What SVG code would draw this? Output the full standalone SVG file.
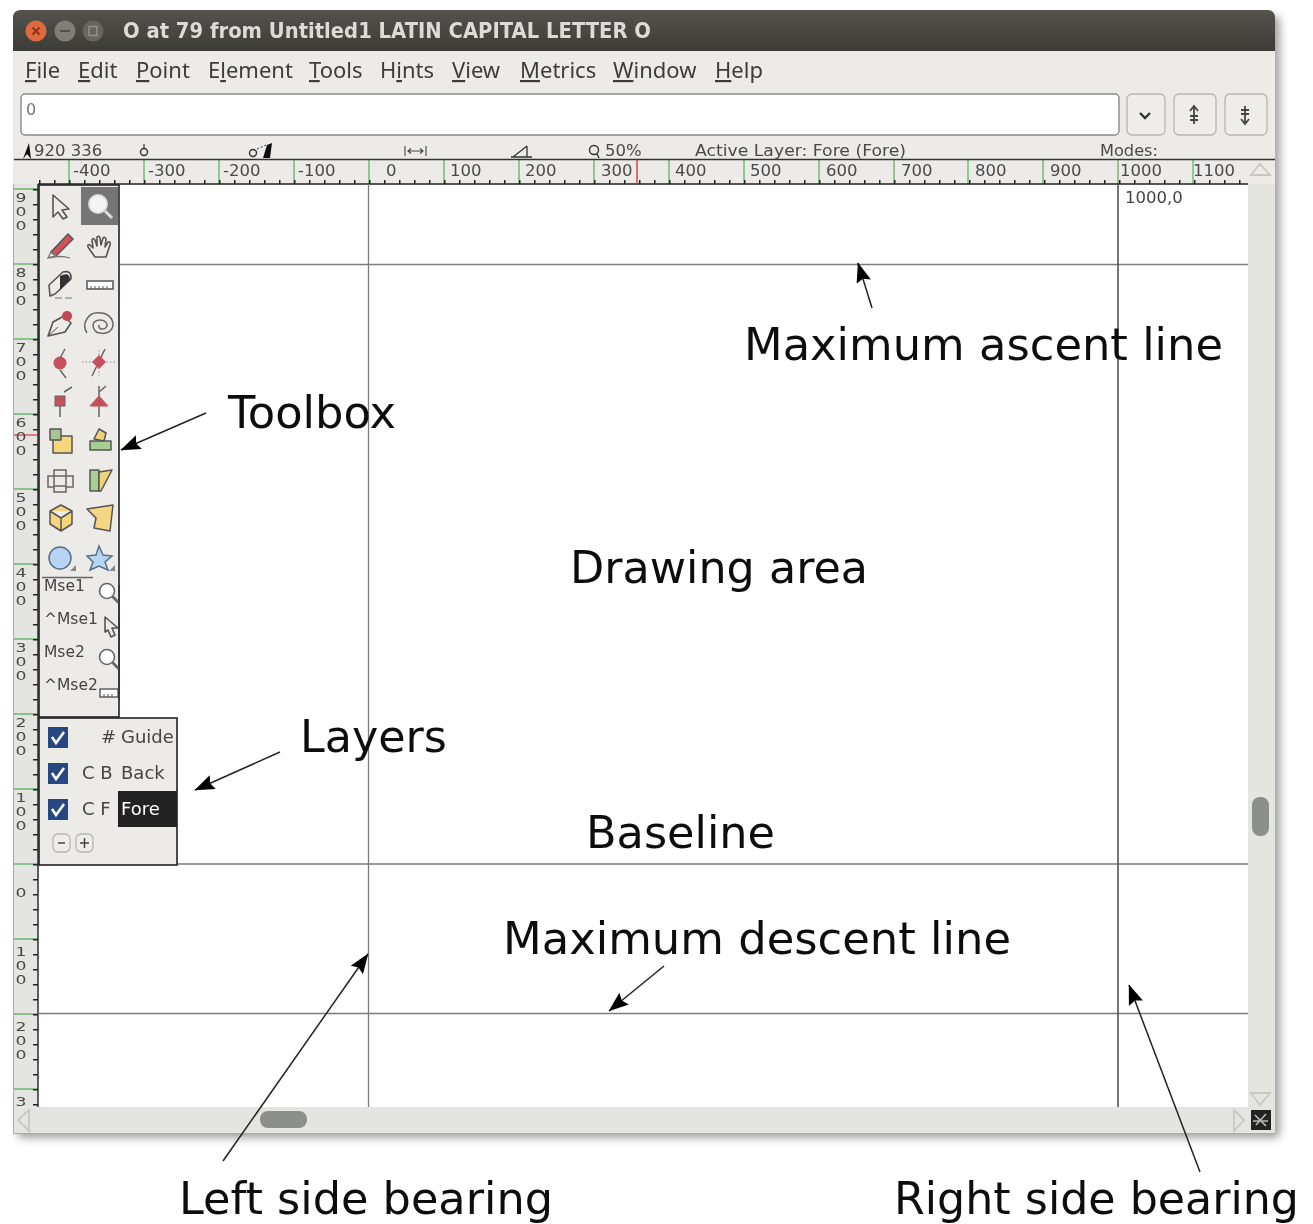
<svg xmlns="http://www.w3.org/2000/svg" width="1313" height="1224" viewBox="0 0 1313 1224">
<style>
.s{font-family:"DejaVu Sans",sans-serif}
.lab{font-family:"DejaVu Sans",sans-serif;font-size:45px;fill:#111}
.lab2{font-family:"DejaVu Sans",sans-serif;font-size:44px;fill:#111}
.menu{font-family:"Noto Sans","DejaVu Sans",sans-serif;font-size:22px;fill:#3c3c3c}
.menu tspan{text-decoration:underline}
.rt{font-family:"DejaVu Sans",sans-serif;font-size:16.5px;fill:#4a4a4a}
.rv{font-family:"DejaVu Sans",sans-serif;font-size:12px;fill:#4a4a4a;text-anchor:middle}
.tb{font-family:"DejaVu Sans",sans-serif;font-size:15.5px;fill:#444}
.ly{font-family:"DejaVu Sans",sans-serif;font-size:18px;fill:#444}
.gl{stroke:#7c7c7c;stroke-width:1.3;fill:none}
.gr{stroke:#6fb56f;stroke-width:1.4;fill:none}
.ic{stroke:#555;stroke-width:1.6;fill:none;stroke-linejoin:round}
.icf{stroke:#555;stroke-width:1.5;stroke-linejoin:round}
.arw{stroke:#222;stroke-width:1.5;fill:none;marker-end:url(#ah)}
.tri{fill:none;stroke:#c6c8c2;stroke-width:1.8}
.btn{fill:#efedea;stroke:#b8b6b0;stroke-width:1.3}
.chk{fill:#27477f}
.tick{fill:none;stroke:#fff;stroke-width:2.6}
</style>
<defs>
<marker id="ah" viewBox="0 0 20 15" refX="19.500" refY="7.500" markerWidth="20" markerHeight="15" markerUnits="userSpaceOnUse" orient="auto"><path d="M20 7.500L0 0L3 7.500L0 15Z" fill="#000"/></marker>
<linearGradient id="tbar" x1="0" y1="0" x2="0" y2="1"><stop offset="0" stop-color="#55534d"/><stop offset="1" stop-color="#3d3c37"/></linearGradient>
<filter id="shadow" x="-5%" y="-5%" width="110%" height="110%"><feGaussianBlur stdDeviation="4"/></filter>
<filter id="soft" x="0" y="0" width="100%" height="100%"><feGaussianBlur stdDeviation="0.45"/></filter>
<g id="mag"><circle cx="-2" cy="-2" r="7.5" fill="#fff" stroke="#666" stroke-width="1.6"/><path d="M3.500 3.500L10 10" stroke="#666" stroke-width="2.600"/></g>
</defs>

<g filter="url(#soft)">
<g id="window">
<rect x="17" y="16" width="1263" height="1122" rx="6" fill="#555" opacity=".55" filter="url(#shadow)"/>
<rect x="13" y="51" width="1262" height="1082" fill="#e4e5e0"/>
<path d="M13 51V18Q13 10 21 10H1267Q1275 10 1275 18V51Z" fill="url(#tbar)"/>
<rect x="13" y="51" width="1262" height="133" fill="#edebe8"/>
<rect x="38" y="184" width="1210" height="923" fill="#fff"/>
<circle cx="36" cy="31" r="10.500" fill="#dd6a3f"/><path d="M32.500 27.500L39.500 34.500M39.500 27.500L32.500 34.500" stroke="#8a3317" stroke-width="1.800"/>
<circle cx="65" cy="31" r="10.500" fill="#7f7e78"/><path d="M60 31H70" stroke="#4c4b47" stroke-width="1.800"/>
<circle cx="93" cy="31" r="10.500" fill="#66655f"/><rect x="89" y="26.500" width="8" height="9" fill="none" stroke="#95948d" stroke-width="1.400"/>
<text x="123" y="38" class="s" font-size="21" font-weight="700" fill="#dcdbd7" textLength="528" lengthAdjust="spacingAndGlyphs">O at 79 from Untitled1 LATIN CAPITAL LETTER O</text>
</g>

<g id="menubar">
<text x="25" y="78" class="menu"><tspan>F</tspan>ile</text>
<text x="78" y="78" class="menu"><tspan>E</tspan>dit</text>
<text x="136" y="78" class="menu"><tspan>P</tspan>oint</text>
<text x="208" y="78" class="menu">E<tspan>l</tspan>ement</text>
<text x="309" y="78" class="menu"><tspan>T</tspan>ools</text>
<text x="380" y="78" class="menu">H<tspan>i</tspan>nts</text>
<text x="452" y="78" class="menu"><tspan>V</tspan>iew</text>
<text x="520" y="78" class="menu"><tspan>M</tspan>etrics</text>
<text x="613" y="78" class="menu"><tspan>W</tspan>indow</text>
<text x="715" y="78" class="menu"><tspan>H</tspan>elp</text>
</g>

<g id="inputbar">
<rect x="21" y="94" width="1098" height="41" rx="4" fill="#fff" stroke="#8a8a86" stroke-width="1.400"/>
<text x="26" y="115" class="s" font-size="16" fill="#777">0</text>
<rect x="1127" y="94" width="38" height="41" rx="5" class="btn"/>
<path d="M1140 113L1145 118L1150 113" fill="none" stroke="#333" stroke-width="2.400"/>
<rect x="1174" y="94" width="42" height="41" rx="5" class="btn"/>
<path d="M1194 106V124M1190 111L1194 106L1198 111M1190 116H1198M1190 120H1198" fill="none" stroke="#444" stroke-width="1.800"/>
<rect x="1225" y="94" width="42" height="41" rx="5" class="btn"/>
<path d="M1245 106V124M1241 110H1249M1241 114H1249M1241 119L1245 124L1249 119" fill="none" stroke="#444" stroke-width="1.800"/>
</g>

<g id="statusbar">
<path d="M23 159L29 143L31 159L27 154Z" fill="#111"/>
<text x="34" y="156" class="rt">920 336</text>
<path d="M144 144V148" stroke="#333" stroke-width="1.200"/><circle cx="144" cy="152" r="3.500" fill="none" stroke="#333" stroke-width="1.400"/>
<circle cx="253" cy="153" r="3.500" fill="none" stroke="#333" stroke-width="1.400"/>
<path d="M263 158L267 145L272 143L270 158Z" fill="#111"/>
<path d="M257 149L266 145" stroke="#333" stroke-dasharray="2 2"/>
<path d="M405 146V156M426 146V156M408 151H423M411 148.500L408 151L411 153.500M420 148.500L423 151L420 153.500" fill="none" stroke="#444" stroke-width="1.100"/>
<path d="M511 157H532M513 157L527 146M527 146V157" fill="none" stroke="#333" stroke-width="1.300"/>
<circle cx="594" cy="150" r="4.500" fill="none" stroke="#333" stroke-width="1.400"/><path d="M597 154L599 158" stroke="#333" stroke-width="1.400"/>
<text x="605" y="156" class="rt">50%</text>
<text x="695" y="156" class="rt" textLength="211" lengthAdjust="spacingAndGlyphs">Active Layer: Fore (Fore)</text>
<text x="1100" y="156" class="rt" textLength="58" lengthAdjust="spacingAndGlyphs">Modes:</text>
</g>

<g id="top-ruler">
<path class="gr" d="M69 160V184M144 160V184M219 160V184M294 160V184M369 160V184M444 160V184M519 160V184M594 160V184M669 160V184M744 160V184M819 160V184M894 160V184M968 160V184M1043 160V184M1118 160V184M1193 160V184"/>
<path d="M39 182H1248" stroke="#222" stroke-width="4" stroke-dasharray="1.500 13.500" fill="none"/>
<path d="M14 159.500H1275" stroke="#333" stroke-width="1.300"/>
<path d="M38 184H1248" stroke="#222" stroke-width="1.400"/>
<path d="M637 160V184" stroke="#d8393c" stroke-width="1.400"/>
<text x="73" y="176" class="rt">-400</text><text x="148" y="176" class="rt">-300</text><text x="223" y="176" class="rt">-200</text><text x="298" y="176" class="rt">-100</text>
<text x="386" y="176" class="rt">0</text><text x="450" y="176" class="rt">100</text><text x="525" y="176" class="rt">200</text><text x="601" y="176" class="rt">300</text><text x="675" y="176" class="rt">400</text><text x="750" y="176" class="rt">500</text><text x="826" y="176" class="rt">600</text><text x="901" y="176" class="rt">700</text><text x="975" y="176" class="rt">800</text><text x="1050" y="176" class="rt">900</text><text x="1120" y="176" class="rt">1000</text><text x="1193" y="176" class="rt">1100</text>
</g>

<g id="left-ruler">
<path class="gr" d="M14 189H38M14 264H38M14 339H38M14 414H38M14 489H38M14 564H38M14 639H38M14 714H38M14 789H38M14 864H38M14 939H38M14 1014H38M14 1089H38"/>
<path d="M35.500 189V1107" stroke="#222" stroke-width="5" stroke-dasharray="1.500 13.500" fill="none"/>
<path d="M38 184V1107" stroke="#222" stroke-width="1.400"/>
<path d="M14 435H38" stroke="#d8393c" stroke-width="1.200"/>
<g lengthAdjust="spacingAndGlyphs">
<text x="21" y="202" class="rv" textLength="11" lengthAdjust="spacingAndGlyphs">9</text><text x="21" y="216" class="rv" textLength="11" lengthAdjust="spacingAndGlyphs">0</text><text x="21" y="230" class="rv" textLength="11" lengthAdjust="spacingAndGlyphs">0</text>
<text x="21" y="277" class="rv" textLength="11" lengthAdjust="spacingAndGlyphs">8</text><text x="21" y="291" class="rv" textLength="11" lengthAdjust="spacingAndGlyphs">0</text><text x="21" y="305" class="rv" textLength="11" lengthAdjust="spacingAndGlyphs">0</text>
<text x="21" y="352" class="rv" textLength="11" lengthAdjust="spacingAndGlyphs">7</text><text x="21" y="366" class="rv" textLength="11" lengthAdjust="spacingAndGlyphs">0</text><text x="21" y="380" class="rv" textLength="11" lengthAdjust="spacingAndGlyphs">0</text>
<text x="21" y="427" class="rv" textLength="11" lengthAdjust="spacingAndGlyphs">6</text><text x="21" y="441" class="rv" textLength="11" lengthAdjust="spacingAndGlyphs">0</text><text x="21" y="455" class="rv" textLength="11" lengthAdjust="spacingAndGlyphs">0</text>
<text x="21" y="502" class="rv" textLength="11" lengthAdjust="spacingAndGlyphs">5</text><text x="21" y="516" class="rv" textLength="11" lengthAdjust="spacingAndGlyphs">0</text><text x="21" y="530" class="rv" textLength="11" lengthAdjust="spacingAndGlyphs">0</text>
<text x="21" y="577" class="rv" textLength="11" lengthAdjust="spacingAndGlyphs">4</text><text x="21" y="591" class="rv" textLength="11" lengthAdjust="spacingAndGlyphs">0</text><text x="21" y="605" class="rv" textLength="11" lengthAdjust="spacingAndGlyphs">0</text>
<text x="21" y="652" class="rv" textLength="11" lengthAdjust="spacingAndGlyphs">3</text><text x="21" y="666" class="rv" textLength="11" lengthAdjust="spacingAndGlyphs">0</text><text x="21" y="680" class="rv" textLength="11" lengthAdjust="spacingAndGlyphs">0</text>
<text x="21" y="727" class="rv" textLength="11" lengthAdjust="spacingAndGlyphs">2</text><text x="21" y="741" class="rv" textLength="11" lengthAdjust="spacingAndGlyphs">0</text><text x="21" y="755" class="rv" textLength="11" lengthAdjust="spacingAndGlyphs">0</text>
<text x="21" y="802" class="rv" textLength="11" lengthAdjust="spacingAndGlyphs">1</text><text x="21" y="816" class="rv" textLength="11" lengthAdjust="spacingAndGlyphs">0</text><text x="21" y="830" class="rv" textLength="11" lengthAdjust="spacingAndGlyphs">0</text>
<text x="21" y="897" class="rv" textLength="11" lengthAdjust="spacingAndGlyphs">0</text>
<text x="21" y="956" class="rv" textLength="11" lengthAdjust="spacingAndGlyphs">1</text><text x="21" y="970" class="rv" textLength="11" lengthAdjust="spacingAndGlyphs">0</text><text x="21" y="984" class="rv" textLength="11" lengthAdjust="spacingAndGlyphs">0</text>
<text x="21" y="1031" class="rv" textLength="11" lengthAdjust="spacingAndGlyphs">2</text><text x="21" y="1045" class="rv" textLength="11" lengthAdjust="spacingAndGlyphs">0</text><text x="21" y="1059" class="rv" textLength="11" lengthAdjust="spacingAndGlyphs">0</text>
<text x="21" y="1106" class="rv" textLength="11" lengthAdjust="spacingAndGlyphs">3</text>
</g>
</g>

<g id="guides">
<path class="gl" d="M119 264.500H1248M177 864H1248M38 1013.500H1248M368.500 184V1107"/>
<path d="M1118 184V1107" stroke="#4a4a4a" stroke-width="1.500"/>
<text x="1125" y="203" class="s" font-size="16.500" fill="#444">1000,0</text>
</g>

<g id="scrollbars">
<rect x="1248" y="184" width="27" height="923" fill="#e4e5e0"/>
<rect x="13" y="1107" width="1262" height="26" fill="#e4e5e0"/>
<rect x="13" y="1133" width="1262" height="1" fill="#aaa"/>
<rect x="13" y="184" width="1" height="949" fill="#aaa"/>
<path class="tri" d="M1260 164L1251 175H1270Z"/>
<path class="tri" d="M1260 1105L1251 1093H1270Z"/>
<path class="tri" d="M18 1120L29 1110V1131Z"/>
<path class="tri" d="M1244 1120L1234 1110V1131Z"/>
<rect x="1252" y="797" width="17" height="39" rx="8" fill="#8d8f8c"/>
<rect x="260" y="1111" width="47" height="17" rx="8" fill="#8d8f8c"/>
<rect x="1251" y="1110" width="20" height="20" fill="#222"/>
<path d="M1255 1115L1266 1126M1266 1114L1256 1125M1253 1121H1268" stroke="#bbb" stroke-width="1.600"/>
</g>

<g id="toolbox">
<rect x="39" y="185" width="80" height="532" fill="#edebe8" stroke="#222" stroke-width="1.600"/>
<rect x="81" y="187" width="37" height="38" fill="#757575"/>
<path d="M53 195L53 217L58 212L63 219L67 217L62 210L69 209Z" fill="#fff" class="ic"/>
<circle cx="98" cy="204" r="9" fill="#f5f5f5" stroke="#ddd" stroke-width="2"/><path d="M105 211L112 218" stroke="#ddd" stroke-width="3"/>
<path d="M51 252L68 234L73 239L56 256Z" fill="#d8505c" class="icf"/><path d="M48 258L51 252L56 256ZM50 258Q60 255 70 258" fill="none" stroke="#777" stroke-width="1.300"/>
<path d="M95 257L88 247Q87 244 90 245L93 248L92 240Q93 237 95 240L97 246L97 237Q99 235 100 238L101 245L103 238Q105 236 106 239L105 247L108 242Q111 241 110 245L106 257Z" fill="#fff" class="ic"/>
<path d="M50 296L49 285L63 272Q72 270 71 279L55 294Z" fill="#e6e6e4" class="ic"/><path d="M60 276Q70 271 70 280L60 290Z" fill="#333"/><path d="M55 298H62M65 298H72" stroke="#777" stroke-width="1"/>
<rect x="87" y="281" width="26" height="8" fill="#fff" stroke="#555" stroke-width="1.500"/><path d="M91 289V286M95 289V286M99 289V286M103 289V286M107 289V286" stroke="#555"/>
<path d="M48 336L53 322L64 316L71 323L65 332Z" fill="#e8e8e6" class="ic"/><circle cx="67" cy="316" r="5" fill="#c5464f"/><path d="M48 336L58 327" stroke="#555"/>
<path d="M87 333A13 13 0 0 1 100 313A12 12 0 0 1 113 325A10 9 0 0 1 100 333A7 8 0 0 1 93 325A7 5 0 0 1 100 320A7 5 0 0 1 107 325A4.500 4 0 0 1 102 329A3 3 0 0 1 99 325" fill="none" stroke="#666" stroke-width="1.500"/>
<path d="M65 349L60 358M60 370L66 378" stroke="#666" stroke-width="1.500"/><circle cx="60" cy="363" r="6.500" fill="#c5505c"/>
<path d="M82 362H117" stroke="#888" stroke-width="1" stroke-dasharray="1.500 2"/><path d="M99 350V376" stroke="#c58fa0" stroke-dasharray="1.500 2"/><path d="M105 349L92 376" stroke="#666" stroke-width="1.500"/><path d="M99 355L106 362L99 369L92 362Z" fill="#c5505c"/>
<path d="M60 396V417M64 392L72 387" stroke="#666" stroke-width="1.500"/><rect x="55" y="396" width="10" height="10" fill="#c5505c" stroke="#666"/>
<path d="M99 386V417M99 392L106 386" stroke="#666" stroke-width="1.500"/><path d="M99 396L108 406H90Z" fill="#c5505c" stroke="#c5505c"/>
<rect x="53" y="436" width="19" height="17" fill="#f4d67c" class="icf"/><rect x="50" y="429" width="11" height="11" fill="#a8c59a" class="icf"/>
<path d="M94 439L99 429L106 433L104 441Z" fill="#efd27a" class="icf"/><rect x="90" y="441" width="21" height="9" fill="#a8cf92" class="icf"/>
<path d="M54 470h12v6h-12zM48 476h6v11h-6zM66 476h7v11h-7zM54 486h12v6h-12z" fill="#ecebe7" stroke="#666" stroke-width="1.500"/>
<rect x="90" y="470" width="9" height="21" fill="#a8cf92" class="icf"/><path d="M99 472L112 470L101 491H99Z" fill="#efd27a" class="icf"/>
<path d="M61 505L72 511V524L61 531L50 524V511ZM50 511L61 518L72 511M61 518V531" fill="#f4d67c" class="icf"/>
<path d="M87 509L113 505L110 531L94 528L96 518Z" fill="#f6d585" class="icf"/>
<circle cx="60" cy="558" r="11" fill="#b7d5f3" stroke="#58708a" stroke-width="1.500"/><path d="M76 565V571H70Z" fill="#888"/>
<path d="M99 546L103 555L112 556L105 562L108 570L99 566L90 570L93 562L87 556L96 555Z" fill="#b7d5f3" stroke="#58708a" stroke-width="1.500"/><path d="M115 565V571H109Z" fill="#888"/>
<path d="M42 577.500H93" stroke="#666" stroke-width="1.300"/>
<text x="44" y="591" class="tb">Mse1</text><text x="44" y="624" class="tb">^Mse1</text><text x="44" y="657" class="tb">Mse2</text><text x="44" y="690" class="tb">^Mse2</text>
<use href="#mag" x="109" y="593"/>
<use href="#mag" x="109" y="659"/>
<path d="M105 617V632L108 630L111 637L115 635L112 628L118 628Z" fill="#fff" class="ic"/>
<rect x="100" y="689" width="18" height="8" fill="#fff" stroke="#555" stroke-width="1.400"/><path d="M104 697V694M108 697V694M112 697V694" stroke="#555"/>
<rect x="118.500" y="585" width="1.500" height="115" fill="#333"/>
</g>

<g id="layers">
<rect x="39" y="718" width="138" height="147" fill="#edebe8" stroke="#222" stroke-width="1.600"/>
<rect x="118" y="791" width="59" height="36" fill="#222"/>
<rect x="48" y="727" width="20" height="21" class="chk"/><path class="tick" d="M52 737L56 743L64 732"/>
<rect x="48" y="763" width="20" height="21" class="chk"/><path class="tick" d="M52 773L56 779L64 768"/>
<rect x="48" y="799" width="20" height="21" class="chk"/><path class="tick" d="M52 809L56 815L64 804"/>
<text x="101" y="743" class="ly">#</text><text x="121" y="743" class="ly">Guide</text>
<text x="82" y="779" class="ly">C B</text><text x="121" y="779" class="ly">Back</text>
<text x="82" y="815" class="ly">C F</text><text x="121" y="815" class="ly" style="fill:#fff">Fore</text>
<rect x="53" y="834" width="17" height="18" rx="5" class="btn"/><path d="M58 843H65" stroke="#444" stroke-width="1.500"/>
<rect x="76" y="834" width="17" height="18" rx="5" class="btn"/><path d="M80 843H89M84.500 838V848" stroke="#444" stroke-width="1.500"/>
</g>

<g id="connectors">
<path class="arw" d="M872 308L858 263"/>
<path class="arw" d="M206 413L121 450"/>
<path class="arw" d="M280 752L195 790"/>
<path class="arw" d="M664 966L609 1011"/>
<path class="arw" d="M223 1161L368 954"/>
<path class="arw" d="M1200 1172L1129 985"/>
</g>

<g id="label-ascent"><text x="744" y="360" class="lab" textLength="479" lengthAdjust="spacingAndGlyphs">Maximum ascent line</text></g>
<g id="label-toolbox"><text x="228" y="428" class="lab" textLength="168" lengthAdjust="spacingAndGlyphs">Toolbox</text></g>
<g id="label-drawing"><text x="570" y="583" class="lab" textLength="298" lengthAdjust="spacingAndGlyphs">Drawing area</text></g>
<g id="label-layers"><text x="300" y="752" class="lab" textLength="147" lengthAdjust="spacingAndGlyphs">Layers</text></g>
<g id="label-baseline"><text x="586" y="848" class="lab" textLength="189" lengthAdjust="spacingAndGlyphs">Baseline</text></g>
<g id="label-descent"><text x="503" y="954" class="lab" textLength="508" lengthAdjust="spacingAndGlyphs">Maximum descent line</text></g>
<g id="label-left"><text x="179" y="1213.500" class="lab2" textLength="374" lengthAdjust="spacingAndGlyphs">Left side bearing</text></g>
<g id="label-right"><text x="894" y="1213.500" class="lab2" textLength="405" lengthAdjust="spacingAndGlyphs">Right side bearing</text></g>
</g>
</svg>
